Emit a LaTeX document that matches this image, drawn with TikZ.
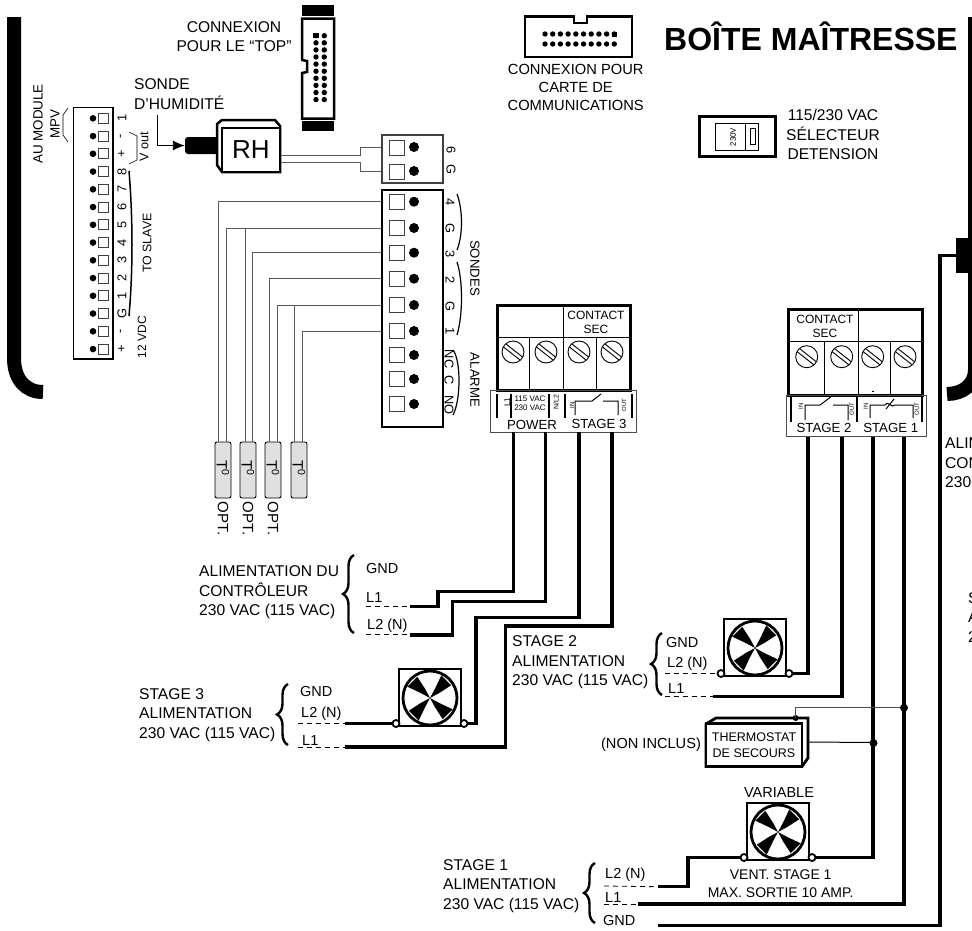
\documentclass[tikz,border=0pt]{standalone}
\usepackage{fontspec}
\setmainfont{Liberation Sans}
\usetikzlibrary{arrows.meta,decorations.pathreplacing}
\newcommand{\fs}[1]{\fontsize{#1}{#1}\selectfont}
\tikzset{
  lbl/.style={inner sep=0pt, align=center, font=\fontsize{15.6}{19.5}\selectfont},
  lblL/.style={lbl, align=left, anchor=west},
  sml/.style={inner sep=0pt, font=\fs{14.5}},
  pinno/.style={inner sep=0pt, font=\fs{12.8}, rotate=-90},
  pinnoB/.style={inner sep=0pt, font=\fs{12.8}, rotate=90},
  tiny1/.style={inner sep=0pt, font=\fs{8}},
  tiny2/.style={inner sep=0pt, font=\fs{6}, rotate=90},
  stagelbl/.style={inner sep=0pt, font=\fs{13.2}},
  termsq/.style={draw=black!75, line width=.9pt, fill=white, minimum size=15pt, inner sep=0pt},
  termsqS/.style={draw=black!75, line width=.8pt, fill=white, minimum size=10pt, inner sep=0pt},
  blockbox/.style={draw, line width=1.5pt, inner sep=0pt},
  wire/.style={line width=3.4pt},
  wiregrey/.style={draw=black!65, line width=1pt},
  dashline/.style={line width=.8pt, dash pattern=on 5pt off 4pt},
  bracelbl/.style={line width=2.4pt, decorate, decoration={brace, amplitude=11pt}},
  sensor/.style={draw, line width=.9pt, fill=black!12, rounded corners=2pt, minimum width=16pt, minimum height=56pt, inner sep=0pt},
  motorterm/.style={circle, draw, line width=1.8pt, fill=white, minimum size=7pt, inner sep=0pt},
  fanbox/.pic={
    \draw[line width=2.4pt, fill=white] (-31,-29) rectangle (31,28);
    \draw[line width=2.8pt] (0,0) circle (27pt);
    \foreach \a in {45,135,225,315}
      \fill[rotate=\a] (0,0) -- (10,-3) -- (24,-8) -- (24,6) -- (10,3) -- cycle;
    \node[motorterm] (-l) at (-34,25.5) {};
    \node[motorterm] (-r) at (34,25.5) {};
  },
  screw/.pic={
    \draw[line width=.9pt] (0,0) circle (11pt);
    \draw[line width=.9pt] (-9.5,-5) -- (7,8) (-7,-8) -- (9.5,5);
  }
}

\begin{document}
\begin{tikzpicture}[x=1pt,y=-1pt]
\clip (0,0) rectangle (972,930);
\fill[white] (0,0) rectangle (972,930);

% walls of the box
\draw[line width=14pt] (14,17) -- (14,358) .. controls (14,380) and (26,392) .. (43,392);
\draw[line width=14pt] (975,17) -- (975,370) .. controls (975,385) and (962,394) .. (947,394);
\node[fill=black, minimum width=16pt, minimum height=35pt, inner sep=0pt] (plug) at (964,255.5) {};

\node[lblL, font=\fs{32}\bfseries] (titre) at (664,36) {BOÎTE MAÎTRESSE};

% module terminals
\node[blockbox, minimum width=39.5pt, minimum height=251.5pt] (mpv) at (93,233.4) {};
\foreach \k/\t in {0/1,1/-,2/+,3/8,4/7,5/6,6/5,7/4,8/3,9/2,10/1,11/G,12/-,13/+} {
  \fill (93,118.3+17.75*\k) circle (3.3pt);
  \node[termsqS] (m\k) at (103.3,118.3+17.75*\k) {};
  \node[pinnoB] (mt\k) at (122,118.3+17.75*\k) {\t};
}
\node[lbl, rotate=90, font=\fontsize{13.4}{17}\selectfont] (aumod) at (46.5,124) {AU MODULE\\MPV};
\node[lbl, rotate=90, font=\fs{12.6}] (vout) at (144,147) {V out};
\node[lbl, rotate=90, font=\fs{12.4}] (slave) at (147,243) {TO SLAVE};
\node[lbl, rotate=90, font=\fs{12}] (vdc) at (142,337) {12 VDC};
\draw[line width=.6pt] (68,108) -- (63,115) -- (63,135) -- (68,142);
\draw[line width=.6pt] (129,132) -- (137,136) -- (137,160) -- (129,164);
\draw[line width=1.5pt] (129,171) .. controls (133,220) and (133,270) .. (129,316);

% top connector
\draw[line width=2.5pt, fill=white] (302,18.5) -- (334,18.5) -- (334,118.5) -- (302,118.5) -- (302,73) -- (307,72) -- (307,61) -- (302,60) -- cycle;
\node[fill=black, minimum width=32pt, minimum height=11pt, inner sep=0pt] (topA) at (318,10.5) {};
\node[fill=black, minimum width=32pt, minimum height=10pt, inner sep=0pt] (topB) at (318,126) {};
\foreach \k in {0,...,9} {
  \fill (316,35.7+7.1*\k) circle (2.7pt);
  \fill (324.3,35.7+7.1*\k) circle (2.7pt);
}
\fill (313.3,33) rectangle (318.7,38.4);
\node[lbl] (topT) at (234,36.5) {CONNEXION\\POUR LE “TOP”};

% communications connector
\draw[line width=2.5pt] (525,16.5) -- (574,16.5) -- (574,23) -- (587,23) -- (587,16.5) -- (632,16.5) -- (632,57) -- (525,57) -- cycle;
\foreach \k in {0,...,9} {
  \fill (545+7.7*\k,34) circle (2.7pt);
  \fill (545+7.7*\k,44) circle (2.7pt);
}
\fill (612,31.5) rectangle (617,36.5);
\node[lbl, font=\fontsize{14.7}{18}\selectfont] (comT) at (575.7,87) {CONNEXION POUR\\CARTE DE\\COMMUNICATIONS};

% selector
\node[draw, line width=3pt, minimum width=76pt, minimum height=40pt, inner sep=0pt] (selA) at (737.5,136.5) {};
\draw[line width=.7pt] (715,123) rectangle (758,150) (745,123) -- (745,150);
\draw[line width=.8pt] (750,128) rectangle (755,144);
\node[tiny1, rotate=90] (selT) at (733,137) {230V};
\node[lbl] (selL) at (833,134.5) {115/230 VAC\\SÉLECTEUR\\DETENSION};

% humidity probe
\node[lblL] (sondeH) at (134,94) {SONDE\\D’HUMIDITÉ};
\coordinate (ldr) at (157.7,115);
\node[fill=black, rounded corners=3pt, minimum width=34pt, minimum height=17pt, inner sep=0pt] (rhstem) at (202,145.5) {};
\draw[line width=2.5pt, fill=white] (217,124) -- (222,120) -- (275,120) -- (280,126) -- (280,172) -- (222,172) -- (217,165) -- cycle;
\node[draw, line width=2.4pt, fill=white, minimum width=58pt, minimum height=44pt, inner sep=0pt, font=\fs{26}] (rh) at (251,150) {RH};
\draw[line width=.9pt, -{Latex[length=12pt,width=10pt]}] (ldr) |- (rhstem.west);

% probe terminals
\node[draw=black!75, line width=1.3pt, minimum width=61pt, minimum height=48pt, inner sep=0pt] (sixG) at (412.5,159) {};
\node[termsq] (sA) at (396.5,147.7) {};
\node[termsq] (sB) at (396.5,171.7) {};
\fill (414,147) circle (5pt);
\fill (414,171) circle (5pt);
\node[pinno] (tsA) at (451,150) {6};
\node[pinno] (tsB) at (451,169) {G};
\draw[wiregrey, line width=.8pt] (rh.east |- 0,155.7) -- (360,155.7) |- (sixG.west |- sA);
\draw[wiregrey, line width=.8pt] (rh.east |- 0,162.7) -- (360,162.7) |- (sixG.west |- sB);

\node[blockbox, minimum width=61pt, minimum height=237pt] (sondes) at (412.5,308.5) {};
\foreach \n/\y/\t in {a/201.7/4,b/228/G,c/252.7/3,d/278.7/2,e/305/G,f/331/1,g/355/NC,h/379/C,i/404/NO} {
  \node[termsq] (s\n) at (396.5,\y) {};
  \fill (414,\y) circle (5pt);
}
\node[pinno] (t4) at (450,201.7) {4};
\node[pinno] (tG) at (450,228) {G};
\node[pinno] (t3) at (450,254) {3};
\node[pinno] (t2) at (450,280) {2};
\node[pinno] (tGb) at (450,306) {G};
\node[pinno] (t1) at (450,331) {1};
\node[pinno] (tNC) at (449,359) {NC};
\node[pinno] (tC) at (449,380) {C};
\node[pinno] (tNO) at (449,405) {NO};
\draw[line width=1.2pt] (457,194) .. controls (463,210) and (463,235) .. (457,250);
\draw[line width=1.2pt] (457,262) .. controls (463,280) and (463,315) .. (457,335);
\draw[line width=1.2pt] (453,350) .. controls (461,360) and (461,400) .. (453,415);
\node[lbl, rotate=-90, font=\fs{13.2}] (sondesT) at (475,268) {SONDES};
\node[lbl, rotate=-90, font=\fs{13.2}] (alarmeT) at (475,380) {ALARME};

% temperature sensors
\node[sensor] (probeA) at (223,470) {};
\node[sensor] (probeB) at (248,470) {};
\node[sensor] (probeC) at (273,470) {};
\node[sensor] (probeD) at (299,470) {};
\node[inner sep=0pt, rotate=-90, font=\fs{15}] (t0A) at (223,468) {T\textsuperscript{0}};
\node[inner sep=0pt, rotate=-90, font=\fs{15}] (t0B) at (248,468) {T\textsuperscript{0}};
\node[inner sep=0pt, rotate=-90, font=\fs{15}] (t0C) at (273,468) {T\textsuperscript{0}};
\node[inner sep=0pt, rotate=-90, font=\fs{15}] (t0D) at (299,468) {T\textsuperscript{0}};
\node[lbl, rotate=-90, font=\fs{15}] (optA) at (223,518.5) {OPT.};
\node[lbl, rotate=-90, font=\fs{15}] (optB) at (248,518.5) {OPT.};
\node[lbl, rotate=-90, font=\fs{15}] (optC) at (273,518.5) {OPT.};
\draw[wiregrey] (sondes.west |- sa) -| (218,442);
\draw[wiregrey] (sondes.west |- sb) -| (226,442);
\draw[wiregrey] (sondes.west |- sb) -| (245,442);
\draw[wiregrey] (sondes.west |- sc) -| (252,442);
\draw[wiregrey] (sondes.west |- sd) -| (269,442);
\draw[wiregrey] (sondes.west |- se) -| (277.5,442);
\draw[wiregrey] (sondes.west |- se) -| (294,442);
\draw[wiregrey] (sondes.west |- sf) -| (302,442);

% power block
\node[draw, line width=3pt, minimum width=133pt, minimum height=85pt, inner sep=0pt] (blocP) at (563.5,347.5) {};
\draw[line width=.9pt] (497,337) -- (630,337) (563,305) -- (563,390) (529,337) -- (529,390) (596,337) -- (596,390);
\pic at (513,352) {screw};
\pic at (546,352) {screw};
\pic at (579,352) {screw};
\pic at (612,352) {screw};
\node[lbl, font=\fontsize{12}{14}\selectfont] (secP) at (596,322) {CONTACT\\SEC};
\node[draw=black!70, line width=.8pt, minimum width=145.3pt, minimum height=42pt, inner sep=0pt] (lblP) at (563.4,411) {};
\draw[line width=1.8pt] (497,394) -- (497,418) (511,394) -- (511,418) (549,394) -- (549,418) (565,394) -- (565,418) (632,394) -- (632,418);
\node[tiny1, rotate=90] (pL1) at (507,402) {L1};
\node[tiny1, align=center] (pV) at (530,403) {115 VAC\\[1pt]230 VAC};
\node[tiny1, rotate=90, font=\fs{7}] (pN) at (556,402) {N/L2};
\node[tiny2] (pIn) at (572,405) {IN};
\node[tiny2] (pOut) at (624,405) {OUT};
\draw[line width=1pt] (575,415) -- (575,401) -- (592,401) -- (601,394) (603,401) -- (618,401) -- (618,415);
\node[stagelbl] (pwrT) at (532,425) {POWER};
\node[stagelbl] (st3T) at (599,424) {STAGE 3};

% stage block
\node[draw, line width=3pt, minimum width=134pt, minimum height=86pt, inner sep=0pt] (blocS) at (855,352) {};
\draw[line width=.9pt] (788,341.7) -- (922,341.7) (858,309) -- (858,395) (824,341.7) -- (824,395) (890.7,341.7) -- (890.7,395);
\pic at (806.7,356.7) {screw};
\pic at (841.7,356.7) {screw};
\pic at (872.7,356.7) {screw};
\pic at (905,356.7) {screw};
\node[lbl, font=\fontsize{12}{14}\selectfont] (secS) at (825,326) {CONTACT\\SEC};
\node[draw=black!70, line width=.8pt, minimum width=140.7pt, minimum height=41.7pt, inner sep=0pt] (lblS) at (856.3,415.8) {};
\draw[line width=1.8pt] (790.7,397) -- (790.7,422) (857,397) -- (857,422) (921.7,397) -- (921.7,422) (873,390.5) -- (873,392);
\node[tiny2] (s2In) at (800.7,406) {IN};
\node[tiny2] (s2Out) at (851.7,409) {OUT};
\node[tiny2] (s1In) at (865.7,406) {IN};
\node[tiny2] (s1Out) at (916.7,409) {OUT};
\draw[line width=1pt] (805,420) -- (805,405) -- (820,405) -- (830.7,397) (833,405) -- (848,405) -- (848,420);
\draw[line width=1pt] (870,418) -- (870,405) -- (885,405) .. controls (889,400) and (891,409) .. (895,405) -- (913,405) -- (913,418) (886,409) -- (894,399);
\node[stagelbl] (st2T) at (824,428) {STAGE 2};
\node[stagelbl] (st1T) at (890.7,428) {STAGE 1};

% fans
\pic (fanC) at (430,698) {fanbox};
\pic (fanB) at (755,648) {fanbox};
\pic (fanA) at (778,832) {fanbox};
\node[lbl, font=\fs{14.5}] (varT) at (779,792) {VARIABLE};
\node[lbl, font=\fontsize{14}{18}\selectfont] (ventT) at (780.7,884) {VENT. STAGE 1\\MAX. SORTIE 10 AMP.};

% thermostat
\draw[line width=2.8pt, fill=white] (706,724) -- (716,718) -- (808,718) -- (808,758) -- (802,766.5) -- (706,766.5) -- cycle;
\node[draw, line width=2.8pt, fill=white, minimum width=96pt, minimum height=42.5pt, inner sep=0pt, align=center, font=\fontsize{12.5}{16}\selectfont] (thermo) at (754,745) {THERMOSTAT\\DE SECOURS};
\coordinate (thA) at (795.7,718);
\coordinate (thB) at (808,742);
\node[lbl, font=\fs{14.6}] (nonT) at (651,745) {(NON INCLUS)};
\fill (thA) circle (3pt);

% wiring
\coordinate (wa) at (513.3,432);
\coordinate (wb) at (545.7,432);
\coordinate (wc) at (579,432);
\coordinate (wd) at (612,432);
\coordinate (we) at (808,436.7);
\coordinate (wf) at (842,436.7);
\coordinate (wg) at (873,436.7);
\coordinate (wh) at (904,436.7);
\coordinate (ctlL1) at (410,606.7);
\coordinate (ctlL2) at (410,634.8);
\coordinate (c3L2) at (345,723.5);
\coordinate (c3L1) at (345,747);
\coordinate (c2L2) at (718,673.5);
\coordinate (c2L1) at (713,696.7);
\coordinate (c1L2) at (658,886.7);
\coordinate (c1L1) at (638,904);
\coordinate (c1G) at (658,925.7);
\draw[wire] (wa) |- (438,591.7) |- (ctlL1);
\draw[wire] (wb) |- (452.7,601.7) |- (ctlL2);
\draw[wire] (wc) |- (476,617.7) |- (fanC-r);
\draw[wire] (wd) |- (505.7,626) |- (c3L1);
\draw[wire] (c3L2) -- (fanC-l);
\draw[wire] (we) |- (fanB-r);
\draw[wire] (wf) |- (c2L1);
\draw[wire] (wg) |- (fanA-r);
\draw[wire] (wh) |- (c1L1);
\draw[wire] (c1L2) -| (688,857.5) -- (fanA-l);
\draw[wire] (plug.west) -| (940,925.7) -- (c1G);
\draw[black!70, line width=1pt] (thA) |- (904,707.7);
\draw[line width=1pt] (thB) -- (874,742.5);
\fill (904,707.7) circle (4pt);
\fill (873.5,743) circle (4pt);

% feed labels
\node[lblL] (feedP) at (199,592.5) {ALIMENTATION DU\\CONTRÔLEUR\\230 VAC (115 VAC)};
\draw[bracelbl] (354,633) -- (354,555);
\node[sml, anchor=west] (gP) at (366,568) {GND};
\node[sml, anchor=west] (l1P) at (366,598) {L1};
\node[sml, anchor=west] (l2P) at (367,625.5) {L2 (N)};
\coordinate (dP1) at (366,606.7);
\coordinate (dP2) at (366,634.8);
\draw[dashline] (dP1) -- (ctlL1);
\draw[dashline] (dP2) -- (ctlL2);

\node[lblL] (feed3) at (139,715) {STAGE 3\\ALIMENTATION\\230 VAC (115 VAC)};
\draw[bracelbl] (288,745) -- (288,684);
\node[sml, anchor=west] (g3) at (300,691) {GND};
\node[sml, anchor=west] (l23) at (301,714) {L2 (N)};
\node[sml, anchor=west] (l13) at (302,741) {L1};
\coordinate (d3a) at (298,723.5);
\coordinate (d3b) at (298,747);
\draw[dashline] (d3a) -- (c3L2);
\draw[dashline] (d3b) -- (c3L1);

\node[lblL] (feed2) at (512,662.5) {STAGE 2\\ALIMENTATION\\230 VAC (115 VAC)};
\draw[bracelbl] (662,695) -- (662,633);
\node[sml, anchor=west] (g2) at (666,642) {GND};
\node[sml, anchor=west] (l22) at (667,664) {L2 (N)};
\node[sml, anchor=west] (l12) at (668,689) {L1};
\coordinate (d2a) at (665,673.5);
\coordinate (d2b) at (665,696.7);
\draw[dashline] (d2a) -- (c2L2);
\draw[dashline] (d2b) -- (c2L1);

\node[lblL] (feed1) at (443,886) {STAGE 1\\ALIMENTATION\\230 VAC (115 VAC)};
\draw[bracelbl] (595,923) -- (595,863);
\node[sml, anchor=west] (l21) at (605,875) {L2 (N)};
\node[sml, anchor=west] (l11) at (605,897) {L1};
\node[sml, anchor=west] (g1) at (603,920) {GND};
\coordinate (d1a) at (604,886);
\coordinate (d1b) at (604,904);
\draw[dashline] (d1a) -- (c1L2);
\draw[dashline] (d1b) -- (c1L1);

% cut off at the right edge
\node[lblL] (cutA) at (945,463) {ALIM\\CON\\230};
\node[lblL] (cutB) at (968,617.5) {S\\A\\2};
\end{tikzpicture}
\end{document}
